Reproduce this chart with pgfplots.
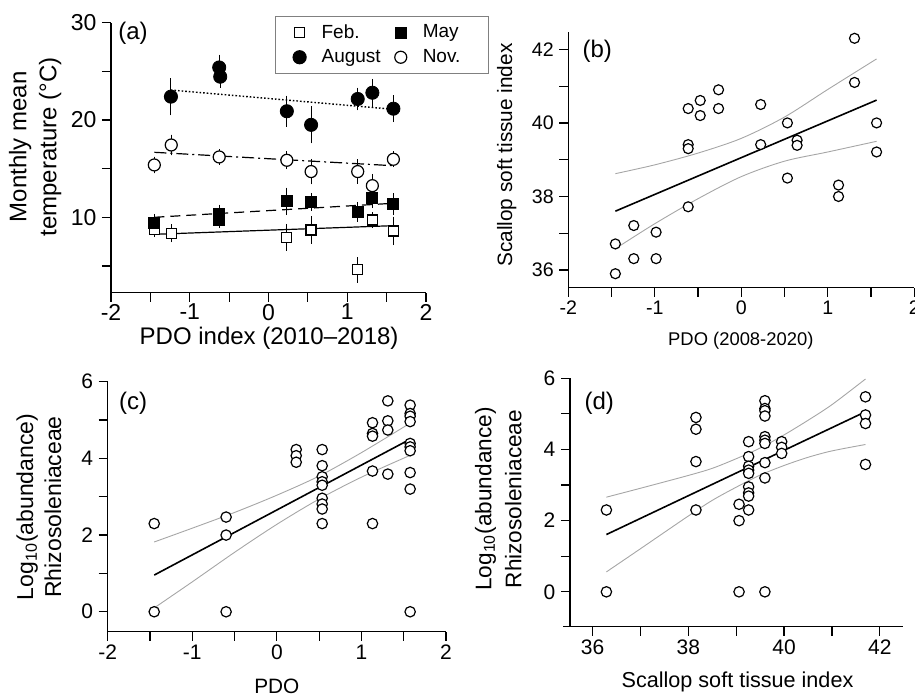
\documentclass[border=0pt]{standalone}
\usepackage{pgfplots}
\pgfplotsset{compat=1.18}
\usepackage{fontspec}
\setmainfont{Liberation Sans}

\pgfplotsset{
  panel/.style={
    scale only axis,
    axis x line*=bottom, axis y line*=left,
    axis line style={line width=0.6pt,black},
    tick align=outside,
    major tick length=4.5pt, minor tick length=4.5pt,
    every tick/.style={black,line width=0.6pt},
    /pgf/number format/assume math mode=true,
    xticklabel style={inner ysep=2pt},
    yticklabel style={inner xsep=2.6pt},
    clip=false,
    anchor=south west,
  },
  opencirc/.style={only marks, mark=*, mark size=#1, mark options={draw=black, fill=white, line width=0.6pt}},
  band/.style={no marks, smooth, draw=black!35, line width=0.45pt},
  reg/.style={no marks, draw=black, line width=0.8pt},
  ebar/.style={error bars/.cd, y dir=both, y explicit,
     error bar style={line width=0.5pt, black, solid},
     error mark=-, error mark options={mark size=2.5pt, line width=0.5pt, black, solid}},
}

\begin{document}
\begin{tikzpicture}
\useasboundingbox (0,0) rectangle (457.5pt,348.5pt);

% ---------------- (a) ----------------
\begin{axis}[panel,
  at={(55.5pt,202.15pt)}, width=157.5pt, height=135pt,
  xmin=-2, xmax=2, ymin=2.25, ymax=30,
  xtick={-2,-1,0,1,2}, minor xtick={-1.5,-0.5,0.5,1.5},
  ytick={10,20,30}, minor ytick={5,15,25},
  tick label style={font=\fontsize{11.5}{13}\selectfont},
  xticklabel style={inner ysep=1pt},
  xlabel={PDO index (2010--2018)},
  xlabel style={at={(axis description cs:0.502,-0.168)}, anchor=center, font=\fontsize{12}{14}\selectfont},
  ylabel={Monthly mean\\temperature (°C)},
  ylabel style={at={(axis description cs:-0.241,0.54)}, anchor=center, align=center, font=\fontsize{12}{15}\selectfont},
  legend columns=2,
  legend cell align=left,
  legend image code/.code={\path[draw=none,fill=none] (0pt,-3pt) rectangle (19pt,3pt); \draw[#1] plot coordinates {(10pt,0pt)};},
  legend style={at={(axis description cs:0.521,1.025)}, anchor=north west,
     draw=black!50, line width=0.5pt, font=\fontsize{9.5}{11}\selectfont,
     inner xsep=2pt, inner ysep=2pt,
     /tikz/every even column/.append style={column sep=-2pt}},
]
% trend lines
\addplot[no marks, forget plot, line width=0.6pt] coordinates {(-1.45,8.25) (1.586,9.14)};
\addplot[no marks, forget plot, line width=0.6pt, dash pattern=on 5pt off 3pt] coordinates {(-1.45,10.0) (1.586,11.44)};
\addplot[no marks, forget plot, line width=0.6pt, dash pattern=on 6pt off 2pt on 1pt off 2pt] coordinates {(-1.45,16.68) (1.586,15.3)};
\addplot[no marks, forget plot, line width=0.7pt, dash pattern=on 0.8pt off 1pt] coordinates {(-1.24,23.08) (1.586,21.1)};
% Feb.
\addplot[only marks, mark=square*, mark size=2.5pt, mark options={draw=black, fill=white, line width=0.6pt}, ebar] coordinates {
 (-1.45,8.77) +- (0,0.3)
 (-1.235,8.36) +- (0,0.4)
 (0.233,7.95) +- (0,0.85)
 (0.541,8.7) +- (0,0.9)
 (1.133,4.6) +- (0,0.8)
 (1.319,9.73) +- (0,0.3)
 (1.586,8.6) +- (0,0.95)
};
% May
\addplot[only marks, mark=square*, mark size=2.75pt, mark options={draw=black, fill=black}, ebar] coordinates {
 (-1.45,9.45) +- (0,0.4)
 (-0.626,9.73) +- (0,0.3)
 (-0.626,10.4) +- (0,0.4)
 (0.233,11.64) +- (0,0.9)
 (0.541,11.6) +- (0,0.4)
 (1.133,10.58) +- (0,0.5)
 (1.319,12.0) +- (0,0.55)
 (1.586,11.37) +- (0,0.6)
};
% August
\addplot[only marks, mark=*, mark size=3.3pt, mark options={draw=black, fill=black}, ebar] coordinates {
 (-1.239,22.4) +- (0,1.4)
 (-0.626,25.4) +- (0,0.8)
 (-0.613,24.45) +- (0,0.6)
 (0.233,20.9) +- (0,1.1)
 (0.541,19.5) +- (0,1.4)
 (1.133,22.16) +- (0,0.65)
 (1.319,22.8) +- (0,0.9)
 (1.586,21.16) +- (0,0.87)
};
% Nov.
\addplot[opencirc=3pt, ebar] coordinates {
 (-1.45,15.38) +- (0,0.35)
 (-1.235,17.43) +- (0,0.55)
 (-0.626,16.2) +- (0,0.3)
 (0.233,15.86) +- (0,0.4)
 (0.541,14.7) +- (0,0.8)
 (1.133,14.7) +- (0,0.75)
 (1.319,13.25) +- (0,0.7)
 (1.586,15.96) +- (0,0.3)
};
% small error bars visible through open markers
\addplot[draw=none, no marks, forget plot, ebar] coordinates {
 (-1.45,15.38) +- (0,0.35)
 (-1.235,17.43) +- (0,0.55)
 (-0.626,16.2) +- (0,0.3)
 (0.233,15.86) +- (0,0.4)
 (-1.235,8.36) +- (0,0.4)
};
\legend{Feb.,May,August,\makebox[29pt][l]{Nov.}}
\node[font=\fontsize{12}{14}\selectfont] at (axis cs:-1.72,28.94) {(a)};
\end{axis}

% ---------------- (b) ----------------
\begin{axis}[panel,
  at={(284.15pt,204.65pt)}, width=173pt, height=128pt,
  xmin=-2, xmax=2, ymin=35.52, ymax=42.48,
  xtick={-2,-1,0,1,2}, minor xtick={-1.5,-0.5,0.5,1.5},
  ytick={36,38,40,42}, minor ytick={37,39,41},
  tick label style={font=\fontsize{9.8}{11}\selectfont},
  xlabel={PDO (2008-2020)},
  xlabel style={at={(axis description cs:0.4986,-0.207)}, anchor=center, font=\fontsize{9.2}{11}\selectfont},
  ylabel={Scallop soft tissue index},
  ylabel style={at={(axis description cs:-0.178,0.518)}, anchor=center, font=\fontsize{10.4}{12}\selectfont},
]
\addplot[band] coordinates {(-1.456,38.62) (-1,38.86) (-0.5,39.18) (0,39.58) (0.5,40.16) (1,40.91) (1.564,41.74)};
\addplot[band] coordinates {(-1.456,36.58) (-1,37.26) (-0.5,37.94) (0,38.54) (0.5,38.96) (1,39.21) (1.564,39.5)};
\addplot[reg] coordinates {(-1.456,37.6) (1.564,40.62)};
\addplot[opencirc=2.5pt] coordinates {
 (-1.456,35.9) (-1.456,36.71) (-1.243,37.21) (-1.243,36.31) (-0.985,37.03) (-0.985,36.31)
 (-0.614,40.39) (-0.614,39.41) (-0.614,39.30) (-0.614,37.72)
 (-0.475,40.61) (-0.475,40.2) (-0.263,40.9) (-0.263,40.39)
 (0.224,40.5) (0.224,39.41) (0.533,40.0) (0.533,38.5)
 (0.645,39.53) (0.645,39.39) (1.124,38.31) (1.124,38.0)
 (1.309,42.3) (1.309,41.1) (1.564,40.0) (1.564,39.21)
};
\node[font=\fontsize{12}{14}\selectfont] at (axis cs:-1.665,41.96) {(b)};
\end{axis}

% ---------------- (c) ----------------
\begin{axis}[panel,
  at={(53.85pt,32.65pt)}, width=169.15pt, height=125pt,
  xmin=-2, xmax=2, ymin=-0.52, ymax=6,
  xtick={-2,-1,0,1,2}, minor xtick={-1.5,-0.5,0.5,1.5},
  ytick={0,2,4,6}, minor ytick={1,3,5},
  tick label style={font=\fontsize{10.5}{12}\selectfont},
  xlabel={PDO},
  xlabel style={at={(axis description cs:0.5,-0.22)}, anchor=center, font=\fontsize{10.4}{12}\selectfont},
  ylabel={Log\textsubscript{10}(abundance)\\Rhizosoleniaceae},
  ylabel style={at={(axis description cs:-0.203,0.499)}, anchor=center, align=center, font=\fontsize{11.5}{14}\selectfont},
]
\addplot[band] coordinates {(-1.45,1.82) (-1,2.18) (-0.5,2.59) (0,3.04) (0.5,3.54) (1,4.15) (1.576,4.92)};
\addplot[band] coordinates {(-1.45,0.10) (-1,0.78) (-0.5,1.55) (0,2.28) (0.5,2.94) (1,3.51) (1.576,4.08)};
\addplot[reg] coordinates {(-1.45,0.957) (1.576,4.5)};
\addplot[opencirc=2.6pt] coordinates {
 (-1.45,2.3) (-1.45,0) (-0.6,2.47) (-0.6,2.0) (-0.6,0)
 (0.229,4.23) (0.229,4.07) (0.229,3.9)
 (0.536,4.23) (0.536,3.81) (0.536,3.52) (0.536,3.39) (0.536,3.30) (0.536,2.96) (0.536,2.81) (0.536,2.68) (0.536,2.3)
 (1.131,4.93) (1.131,4.65) (1.131,4.58) (1.131,3.67) (1.131,2.3)
 (1.312,5.5) (1.312,4.98) (1.312,4.74) (1.312,3.59)
 (1.576,5.39) (1.576,5.17) (1.576,5.10) (1.576,4.96) (1.576,4.39) (1.576,4.30) (1.576,4.2) (1.576,3.63) (1.576,3.2) (1.576,0)
};
\node[font=\fontsize{12}{14}\selectfont] at (axis cs:-1.70,5.45) {(c)};
\end{axis}

% ---------------- (d) ----------------
\begin{axis}[panel,
  at={(285pt,35.15pt)}, width=166.65pt, height=124.2pt,
  xmin=35.53, xmax=42.49, ymin=-0.98, ymax=6,
  xtick={36,38,40,42}, minor xtick={37,39,41},
  ytick={0,2,4,6}, minor ytick={1,3,5},
  tick label style={font=\fontsize{10.5}{12}\selectfont},
  xlabel={Scallop soft tissue index},
  xlabel style={at={(axis description cs:0.5025,-0.221)}, anchor=center, font=\fontsize{10.8}{12}\selectfont},
  ylabel={Log\textsubscript{10}(abundance)\\Rhizosoleniaceae},
  ylabel style={at={(axis description cs:-0.215,0.514)}, anchor=center, align=center, font=\fontsize{11.3}{15}\selectfont},
]
\draw[line width=0.6pt] (axis cs:35.39,-0.98) -- (axis cs:35.53,-0.98);
\addplot[band] coordinates {(36.29,2.66) (37,2.91) (38,3.27) (38.5,3.47) (39,3.74) (39.5,4.04) (40,4.41) (40.5,4.82) (41,5.26) (41.7,5.98)};
\addplot[band] coordinates {(36.29,0.56) (37,1.21) (38,2.13) (38.5,2.57) (39,2.94) (39.5,3.28) (40,3.55) (40.5,3.78) (41,3.96) (41.7,4.14)};
\addplot[reg] coordinates {(36.29,1.61) (41.7,5.06)};
\addplot[opencirc=2.6pt] coordinates {
 (36.29,2.3) (36.29,0)
 (38.16,4.9) (38.16,4.57) (38.16,3.66) (38.16,2.3)
 (39.06,2.46) (39.06,2.0) (39.06,0)
 (39.26,4.22) (39.26,3.8) (39.26,3.53) (39.26,3.42) (39.26,3.33) (39.26,2.95) (39.26,2.78) (39.26,2.69) (39.26,2.3)
 (39.6,5.37) (39.6,5.15) (39.6,5.09) (39.6,4.94) (39.6,4.36) (39.6,4.26) (39.6,4.17) (39.6,3.63) (39.6,3.2) (39.6,0)
 (39.95,4.22) (39.95,4.06) (39.95,3.89)
 (41.7,5.48) (41.7,4.97) (41.7,4.73) (41.7,3.58)
};
\node[font=\fontsize{12}{14}\selectfont] at (axis cs:36.14,5.31) {(d)};
\end{axis}
\end{tikzpicture}
\end{document}
